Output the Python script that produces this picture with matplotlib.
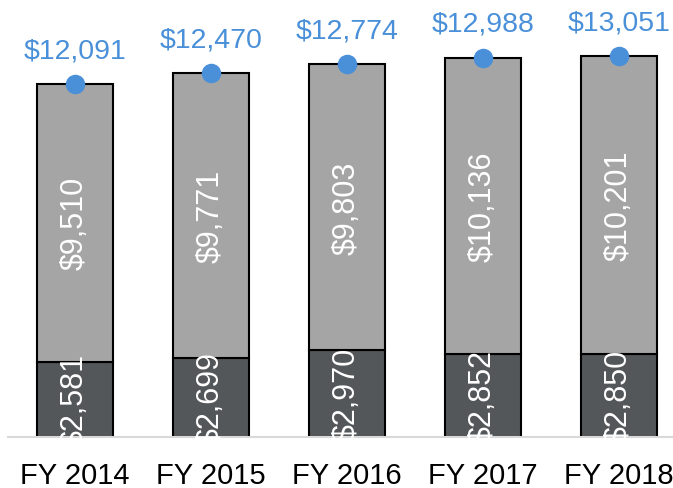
import numpy as np
import matplotlib.pyplot as plt

plt.rcParams['font.family'] = ['Liberation Sans', 'DejaVu Sans']

years = ['FY 2014', 'FY 2015', 'FY 2016', 'FY 2017', 'FY 2018']
bottom_vals = [2581, 2699, 2970, 2852, 2850]
top_vals = [9510, 9771, 9803, 10136, 10201]
totals = [12091, 12470, 12774, 12988, 13051]

dark = '#54575a'
light = '#a5a5a5'
blue = '#4a90d9'

fig = plt.figure(figsize=(6.73, 4.89), dpi=100)
ax = fig.add_axes([8 / 673, 51 / 489, 665 / 673, 438 / 489])

x = np.arange(len(years))
w = 0.56
ax.bar(x, bottom_vals, w, color=dark, edgecolor='black', linewidth=1.5, zorder=2)
ax.bar(x, top_vals, w, bottom=bottom_vals, color=light, edgecolor='black', linewidth=1.5, zorder=2)
ax.scatter(x, totals, s=170, color=blue, zorder=3, clip_on=False)

for i in range(len(years)):
    ax.text(x[i], bottom_vals[i] / 2, f'${bottom_vals[i]:,}', rotation=90, color='white',
            ha='center', va='center', fontsize=22, zorder=4)
    ax.text(x[i], bottom_vals[i] + top_vals[i] / 2, f'${top_vals[i]:,}', rotation=90, color='white',
            ha='center', va='center', fontsize=22, zorder=4)
    ax.annotate(f'${totals[i]:,}', (x[i], totals[i]), xytext=(0, 15), textcoords='offset points',
                ha='center', va='bottom', color=blue, fontsize=20.5)

ax.set_xlim(-0.49, 4.4)
ax.set_ylim(0, 15000)
ax.set_xticks(x)
ax.set_xticklabels(years, fontsize=21)
ax.tick_params(axis='x', length=0, pad=17)
ax.set_yticks([])
for s in ['top', 'right', 'left']:
    ax.spines[s].set_visible(False)
ax.spines['bottom'].set_color('#d9d9d9')
ax.spines['bottom'].set_linewidth(1.5)

fig.savefig('out.png', dpi=100)
